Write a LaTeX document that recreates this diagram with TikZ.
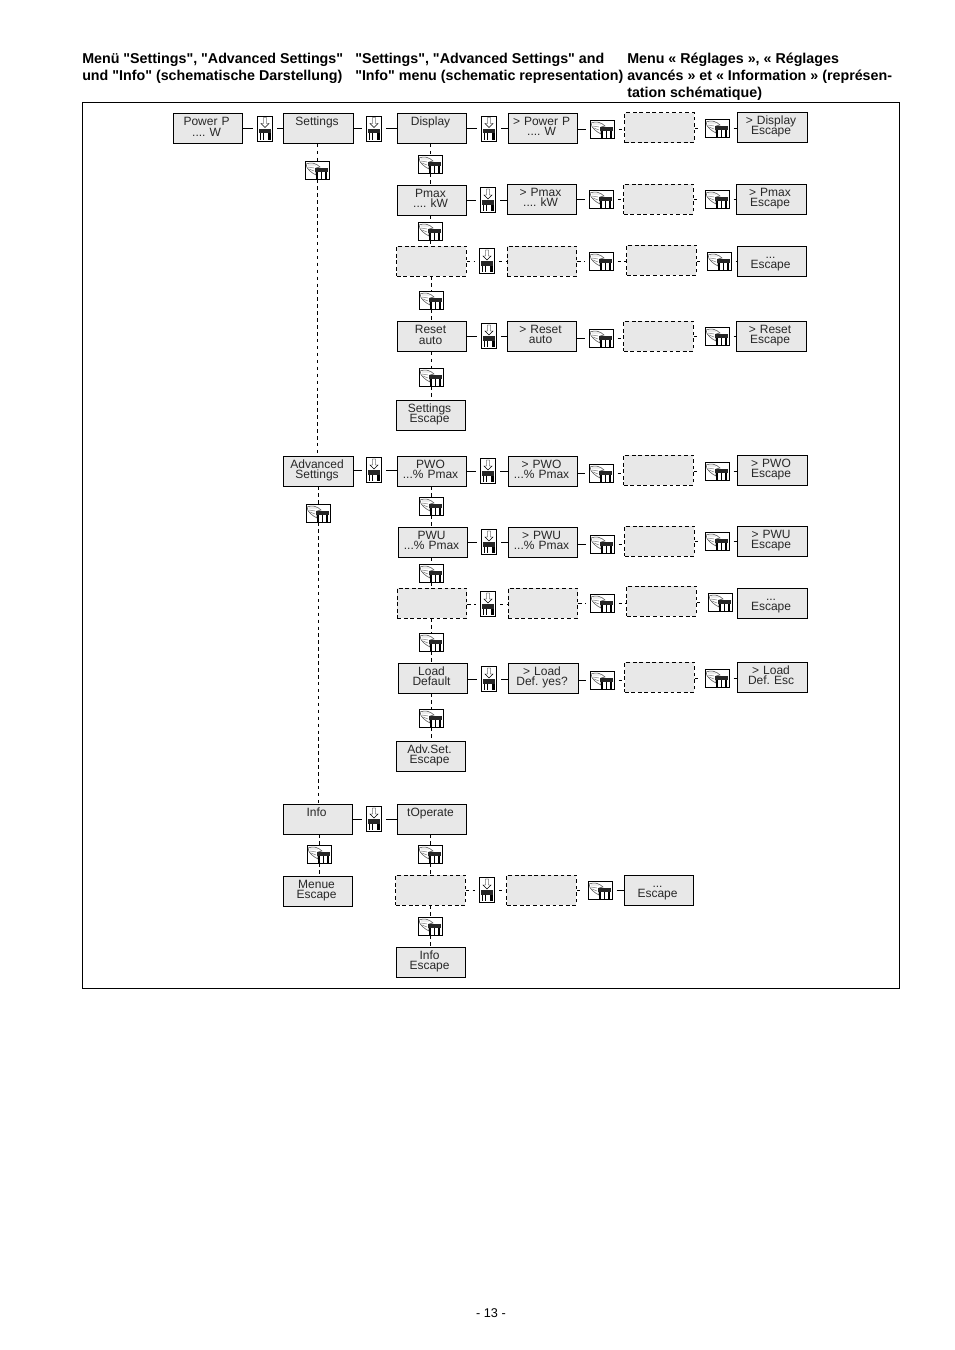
\documentclass[tikz,border=0pt]{standalone}
\usepackage{fontspec}
\setmainfont{Liberation Sans}
\newfontfamily\headfont{Liberation Sans}
\usepackage{xcolor}
\definecolor{panelgray}{RGB}{232,232,232}
\definecolor{labelgray}{RGB}{40,40,40}
\tikzset{
    menubox/.style={draw=black, fill=panelgray, line width=0.75pt, minimum width=52pt, minimum height=22.5pt, inner sep=0pt, text width=50pt, align=center, text height=5pt, text depth=9.4pt, text=labelgray, font=\fontsize{9}{8.1}\selectfont, execute at begin node={\frenchspacing\leftskip=0pt plus 1fil\rightskip=2.2pt plus 1fil\parfillskip=0pt\relax}},
    emptybox/.style={draw=black, fill=panelgray, line width=0.75pt, minimum width=52pt, minimum height=22.5pt, inner sep=0pt, dash pattern=on 2.9pt off 2pt},
    heading/.style={anchor=north west, inner sep=0pt, align=left, font=\headfont\fontsize{10.7}{12.75}\selectfont\bfseries},
    solidlink/.style={line width=0.6pt},
    dashlink/.style={line width=0.6pt, dash pattern=on 2.6pt off 2.6pt},
    keyin/.style={shorten >=3pt},
    keyout/.style={shorten <=3pt},
    downkey/.style={draw=black, fill=white, line width=0.75pt, minimum width=11.25pt, minimum height=18.75pt, inner sep=0pt, path picture={
        \begin{scope}[shift={(path picture bounding box.center)}]
            \draw[line width=0.35pt] (-1.5,-11) -- (1.5,-11) -- (1.5,-5) -- (4,-5) -- (0,-1) -- (-4,-5) -- (-1.5,-5) -- cycle;
            \fill[black!85] (-6,0) rectangle (6,4.5);
            \fill[black] (2.5,4.5) rectangle (5.5,11);
            \draw[line width=0.5pt] (-5,4.5) -- (-5,11) (-2,4.5) -- (-2,11);
        \end{scope}}},
    handkey/.style={draw=black, fill=white, line width=0.75pt, minimum width=18pt, minimum height=13.5pt, inner sep=0pt, path picture={
        \begin{scope}[shift={(path picture bounding box.center)}]
            \draw[line width=0.4pt, black!70] (-11,-6) .. controls (-6,-8) and (-1,-7) .. (3,-3) -- (-1,-2) -- (-1,5) .. controls (-5,3) and (-11,-1) .. cycle;
            \draw[line width=0.35pt, black!55] (-9,-5) -- (-1,-5) (-9,-3) -- (-3,-2) (-8,-1) -- (-3,1);
            \fill[black!85] (-2,-2.5) rectangle (10.5,2);
            \fill[black] (-1,2) rectangle (0.5,9);
            \fill[black] (7.5,2) rectangle (10,9);
            \draw[line width=0.5pt] (4,2) -- (4,9);
        \end{scope}}}
}
\begin{document}
\begin{tikzpicture}[x=0.75pt, y=-0.75pt]
    \useasboundingbox (0,0) rectangle (954,1350);

    % headings
    \node[heading] (titlede) at (82,53) {Menü "Settings", "Advanced Settings"\\und "Info" (schematische Darstellung)};
    \node[heading] (titleen) at (355,53) {"Settings", "Advanced Settings" and\\"Info" menu (schematic representation)};
    \node[heading] (titlefr) at (627,53) {Menu « Réglages », « Réglages\\avancés » et « Information » (représen-\\tation schématique)};
    \node[draw=black, line width=0.75pt, minimum width=612.75pt, minimum height=664.5pt, inner sep=0pt] (frame) at (490.5,545) {};
    \node[font=\fontsize{9.5}{10}\selectfont] (pageno) at (491,1313) {- 13 -};

    % top row
    \node[menubox] (power) at (208,128.5) {Power P\\.... W};
    \node[downkey] (k1) at (265,128.5) {};
    \node[menubox] (settings) at (318.5,128.5) {Settings\\~};
    \node[downkey] (k2) at (374,128.5) {};
    \node[menubox] (display) at (432,128.5) {Display\\~};
    \node[downkey] (k3) at (489,128.5) {};
    \node[menubox] (powerb) at (543,128) {> Power P\\.... W};
    \node[handkey] (k4) at (602,129) {};
    \node[emptybox] (e1) at (659.5,127.5) {};
    \node[handkey] (k5) at (717,128) {};
    \node[menubox] (displayesc) at (772.5,127) {> Display\\Escape};
    \draw[solidlink, keyin] (power.east |- k1) -- (k1.west);
    \draw[solidlink, keyout] (k1.east) -- (k1 -| settings.west);
    \draw[solidlink, keyin] (settings.east |- k2) -- (k2.west);
    \draw[solidlink, keyout] (k2.east) -- (k2 -| display.west);
    \draw[solidlink, keyin] (display.east |- k3) -- (k3.west);
    \draw[solidlink, keyout] (k3.east) -- (k3 -| powerb.west);
    \draw[solidlink, keyin] (powerb.east |- k4) -- (k4.west);
    \draw[dashlink, keyout] (k4.east) -- (k4 -| e1.west);
    \draw[dashlink, keyin] (e1.east |- k5) -- (k5.west);
    \draw[solidlink, keyout] (k5.east) -- (k5 -| displayesc.west);

    % Pmax row
    \node[handkey] (k6) at (430,164) {};
    \node[menubox] (pmax) at (432,200) {Pmax\\.... kW};
    \node[downkey] (k7) at (488,200) {};
    \node[menubox] (pmaxb) at (542,199) {> Pmax\\.... kW};
    \node[handkey] (k8) at (601,199) {};
    \node[emptybox] (e2) at (658.5,199) {};
    \node[handkey] (k9) at (717,199) {};
    \node[menubox] (pmaxesc) at (771.5,199) {> Pmax\\Escape};
    \draw[solidlink, keyin] (pmax.east |- k7) -- (k7.west);
    \draw[solidlink, keyout] (k7.east) -- (k7 -| pmaxb.west);
    \draw[solidlink, keyin] (pmaxb.east |- k8) -- (k8.west);
    \draw[dashlink, keyout] (k8.east) -- (k8 -| e2.west);
    \draw[dashlink, keyin] (e2.east |- k9) -- (k9.west);
    \draw[solidlink, keyout] (k9.east) -- (k9 -| pmaxesc.west);

    % open row
    \node[handkey] (k10) at (430,231) {};
    \node[emptybox] (e3) at (431.5,261) {};
    \node[downkey] (k11) at (487,261) {};
    \node[emptybox] (e4) at (542,261) {};
    \node[handkey] (k12) at (601,261) {};
    \node[emptybox] (e5) at (661.5,260) {};
    \node[handkey] (k13) at (719,261) {};
    \node[menubox] (dotsesc) at (772,261) {...\\Escape};
    \draw[dashlink, keyin] (e3.east |- k11) -- (k11.west);
    \draw[dashlink, keyout] (k11.east) -- (k11 -| e4.west);
    \draw[dashlink, keyin] (e4.east |- k12) -- (k12.west);
    \draw[dashlink, keyout] (k12.east) -- (k12 -| e5.west);
    \draw[dashlink, keyin] (e5.east |- k13) -- (k13.west);
    \draw[solidlink, keyout] (k13.east) -- (k13 -| dotsesc.west);

    % Reset row
    \node[handkey] (k14) at (431,300) {};
    \node[menubox] (reset) at (432,336.5) {Reset\\auto};
    \node[downkey] (k15) at (489,336) {};
    \node[menubox] (resetb) at (542,336) {> Reset\\auto};
    \node[handkey] (k16) at (601,338) {};
    \node[emptybox] (e6) at (658.5,336) {};
    \node[handkey] (k17) at (717,336) {};
    \node[menubox] (resetesc) at (771.5,336) {> Reset\\Escape};
    \draw[solidlink, keyin] (reset.east |- k15) -- (k15.west);
    \draw[solidlink, keyout] (k15.east) -- (k15 -| resetb.west);
    \draw[solidlink, keyin] (resetb.east |- k16) -- (k16.west);
    \draw[dashlink, keyout] (k16.east) -- (k16 -| e6.west);
    \draw[dashlink, keyin] (e6.east |- k17) -- (k17.west);
    \draw[solidlink, keyout] (k17.east) -- (k17 -| resetesc.west);

    \node[handkey] (k18) at (431,377) {};
    \node[menubox] (setesc) at (431,415) {Settings\\Escape};
    \draw[dashlink] (display.south -| k6) -- (k6.north);
    \draw[dashlink] (k6.south) -- (k6 |- pmax.north);
    \draw[dashlink] (pmax.south -| k10) -- (k10.north);
    \draw[dashlink] (k10.south) -- (k10 |- e3.north);
    \draw[dashlink] (e3.south -| k14) -- (k14.north);
    \draw[dashlink] (k14.south) -- (k14 |- reset.north);
    \draw[dashlink] (reset.south -| k18) -- (k18.north);
    \draw[dashlink] (k18.south) -- (k18 |- setesc.north);

    % advanced settings, PWO row
    \node[handkey] (k19) at (317,170) {};
    \node[menubox] (advanced) at (318.5,471) {Advanced\\Settings};
    \node[downkey] (k20) at (374,470) {};
    \node[menubox] (pwo) at (432,471) {PWO\\...\% Pmax};
    \node[downkey] (k21) at (488,471) {};
    \node[menubox] (pwob) at (543,471) {> PWO\\...\% Pmax};
    \node[handkey] (k22) at (601,473) {};
    \node[emptybox] (e7) at (658.5,470) {};
    \node[handkey] (k23) at (717,471) {};
    \node[menubox] (pwoesc) at (772.5,470) {> PWO\\Escape};
    \draw[dashlink] (settings.south -| k19) -- (k19.north);
    \draw[dashlink] (k19.south) -- (k19 |- advanced.north);
    \draw[solidlink, keyin] (advanced.east |- k20) -- (k20.west);
    \draw[solidlink, keyout] (k20.east) -- (k20 -| pwo.west);
    \draw[solidlink, keyin] (pwo.east |- k21) -- (k21.west);
    \draw[solidlink, keyout] (k21.east) -- (k21 -| pwob.west);
    \draw[solidlink, keyin] (pwob.east |- k22) -- (k22.west);
    \draw[dashlink, keyout] (k22.east) -- (k22 -| e7.west);
    \draw[dashlink, keyin] (e7.east |- k23) -- (k23.west);
    \draw[solidlink, keyout] (k23.east) -- (k23 -| pwoesc.west);

    % PWU row
    \node[handkey] (k24) at (431,506) {};
    \node[menubox] (pwu) at (433,542) {PWU\\...\% Pmax};
    \node[downkey] (k25) at (489,542) {};
    \node[menubox] (pwub) at (543,542) {> PWU\\...\% Pmax};
    \node[handkey] (k26) at (602,544) {};
    \node[emptybox] (e8) at (659.5,541) {};
    \node[handkey] (k27) at (717,541) {};
    \node[menubox] (pwuesc) at (772.5,541) {> PWU\\Escape};
    \draw[solidlink, keyin] (pwu.east |- k25) -- (k25.west);
    \draw[solidlink, keyout] (k25.east) -- (k25 -| pwub.west);
    \draw[solidlink, keyin] (pwub.east |- k26) -- (k26.west);
    \draw[dashlink, keyout] (k26.east) -- (k26 -| e8.west);
    \draw[dashlink, keyin] (e8.east |- k27) -- (k27.west);
    \draw[solidlink, keyout] (k27.east) -- (k27 -| pwuesc.west);

    % second open row
    \node[handkey] (k28) at (431,573) {};
    \node[emptybox] (e9) at (432,603) {};
    \node[downkey] (k29) at (488,604) {};
    \node[emptybox] (e10) at (543,603) {};
    \node[handkey] (k30) at (602,603) {};
    \node[emptybox] (e11) at (661.5,601) {};
    \node[handkey] (k31) at (720,602) {};
    \node[menubox] (dotsescb) at (772.5,603) {...\\Escape};
    \draw[dashlink, keyin] (e9.east |- k29) -- (k29.west);
    \draw[dashlink, keyout] (k29.east) -- (k29 -| e10.west);
    \draw[dashlink, keyin] (e10.east |- k30) -- (k30.west);
    \draw[dashlink, keyout] (k30.east) -- (k30 -| e11.west);
    \draw[dashlink, keyin] (e11.east |- k31) -- (k31.west);
    \draw[solidlink, keyout] (k31.east) -- (k31 -| dotsescb.west);

    % Load row
    \node[handkey] (k32) at (431,642) {};
    \node[menubox] (load) at (433,678) {Load\\Default};
    \node[downkey] (k33) at (489,679) {};
    \node[menubox] (loadb) at (543.5,678) {> Load\\Def. yes?};
    \node[handkey] (k34) at (602,680) {};
    \node[emptybox] (e12) at (659.5,677) {};
    \node[handkey] (k35) at (717,678) {};
    \node[menubox] (loadesc) at (772.5,677) {> Load\\Def. Esc};
    \draw[solidlink, keyin] (load.east |- k33) -- (k33.west);
    \draw[solidlink, keyout] (k33.east) -- (k33 -| loadb.west);
    \draw[solidlink, keyin] (loadb.east |- k34) -- (k34.west);
    \draw[dashlink, keyout] (k34.east) -- (k34 -| e12.west);
    \draw[dashlink, keyin] (e12.east |- k35) -- (k35.west);
    \draw[solidlink, keyout] (k35.east) -- (k35 -| loadesc.west);

    \node[handkey] (k36) at (431,718) {};
    \node[menubox] (advesc) at (431,756) {Adv.Set.\\Escape};
    \draw[dashlink] (pwo.south -| k24) -- (k24.north);
    \draw[dashlink] (k24.south) -- (k24 |- pwu.north);
    \draw[dashlink] (pwu.south -| k28) -- (k28.north);
    \draw[dashlink] (k28.south) -- (k28 |- e9.north);
    \draw[dashlink] (e9.south -| k32) -- (k32.north);
    \draw[dashlink] (k32.south) -- (k32 |- load.north);
    \draw[dashlink] (load.south -| k36) -- (k36.north);
    \draw[dashlink] (k36.south) -- (k36 |- advesc.north);

    % info
    \node[handkey] (k37) at (318,513) {};
    \node[menubox] (info) at (318,819) {Info\\~};
    \node[downkey] (k38) at (374,819) {};
    \node[menubox] (toperate) at (432,819) {tOperate\\~};
    \node[handkey] (k39) at (319,854) {};
    \node[menubox] (menueesc) at (318,891) {Menue\\Escape};
    \node[handkey] (k40) at (430,854) {};
    \node[emptybox] (e13) at (430.5,890) {};
    \node[downkey] (k41) at (487,890) {};
    \node[emptybox] (e14) at (541.5,890) {};
    \node[handkey] (k42) at (600,890) {};
    \node[menubox] (dotsescc) at (659,890) {...\\Escape};
    \node[handkey] (k43) at (430,926) {};
    \node[menubox] (infoesc) at (431,962) {Info\\Escape};
    \draw[dashlink] (advanced.south -| k37) -- (k37.north);
    \draw[dashlink] (k37.south) -- (k37 |- info.north);
    \draw[solidlink, keyin] (info.east |- k38) -- (k38.west);
    \draw[solidlink, keyout] (k38.east) -- (k38 -| toperate.west);
    \draw[dashlink] (info.south -| k39) -- (k39.north);
    \draw[dashlink] (k39.south) -- (k39 |- menueesc.north);
    \draw[dashlink] (toperate.south -| k40) -- (k40.north);
    \draw[dashlink] (k40.south) -- (k40 |- e13.north);
    \draw[dashlink, keyin] (e13.east |- k41) -- (k41.west);
    \draw[dashlink, keyout] (k41.east) -- (k41 -| e14.west);
    \draw[dashlink, keyin] (e14.east |- k42) -- (k42.west);
    \draw[solidlink, keyout] (k42.east) -- (k42 -| dotsescc.west);
    \draw[dashlink] (e13.south -| k43) -- (k43.north);
    \draw[dashlink] (k43.south) -- (k43 |- infoesc.north);
\end{tikzpicture}
\end{document}
